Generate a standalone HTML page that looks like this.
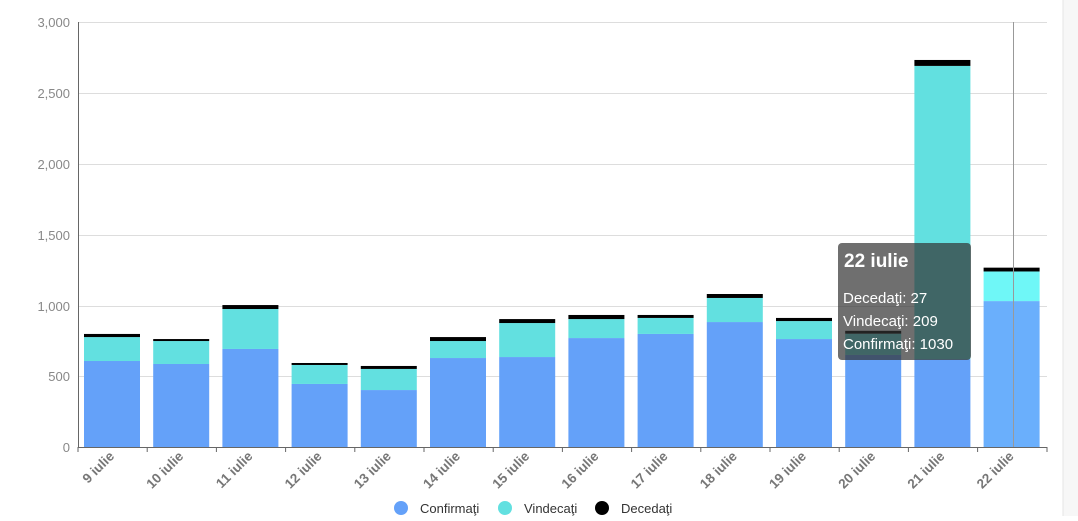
<!DOCTYPE html><html><head><style>body{margin:0;background:#fff;width:1078px;height:516px;overflow:hidden;font-family:"Liberation Sans",sans-serif}</style></head><body>
<svg width="1078" height="516" xmlns="http://www.w3.org/2000/svg" font-family="Liberation Sans, sans-serif">
<rect x="1063" y="0" width="15" height="516" fill="#f7f7f7"/><line x1="1063" y1="0" x2="1063" y2="516" stroke="#e4e4e4"/>
<g stroke="#ddd" stroke-width="1">
<line x1="78" y1="22.5" x2="1047" y2="22.5"/><line x1="78" y1="93.5" x2="1047" y2="93.5"/><line x1="78" y1="164.5" x2="1047" y2="164.5"/><line x1="78" y1="235.5" x2="1047" y2="235.5"/><line x1="78" y1="306.5" x2="1047" y2="306.5"/><line x1="78" y1="376.5" x2="1047" y2="376.5"/></g>
<g font-size="13" fill="#888" text-anchor="end">
<text x="70" y="27">3,000</text><text x="70" y="98">2,500</text><text x="70" y="169">2,000</text><text x="70" y="240">1,500</text><text x="70" y="311">1,000</text><text x="70" y="381">500</text><text x="70" y="452">0</text></g>
<g id="bars"></g>
<line x1="78.5" y1="22" x2="78.5" y2="447" stroke="#666"/>
<line x1="78" y1="447.5" x2="1047" y2="447.5" stroke="#666"/>
<line x1="1013.5" y1="22" x2="1013.5" y2="447" stroke="#999"/>
<g id="ticks"></g>
<g transform="translate(838,243)"><rect width="133" height="117" rx="4" fill="rgba(50,50,50,0.7)"/>
<text x="6" y="24" fill="#fff" font-size="19" font-weight="bold">22 iulie</text>
<text x="5" y="60" fill="#fff" font-size="15">Decedaţi: 27</text>
<text x="5" y="83" fill="#fff" font-size="15">Vindecaţi: 209</text>
<text x="5" y="106" fill="#fff" font-size="15">Confirmaţi: 1030</text></g>
<g font-size="13" fill="#333"><circle cx="401" cy="508" r="7" fill="#64a1f9"/><text x="420" y="513">Confirmaţi</text>
<circle cx="505" cy="508" r="7" fill="#62e0e0"/><text x="524" y="513">Vindecaţi</text>
<circle cx="602" cy="508" r="7" fill="#000"/><text x="621" y="513">Decedaţi</text></g>
</svg>
<script>
var d=[[607,169,22],[586,162,14],[692,282,28],[445,134,14],[402,149,21],[628,120,28],[635,240,28],[769,134,29],[798,113,21],[882,170,28],[762,127,22],[650,150,20],[620,2070,42],[1030,209,27]];
var names=["9","10","11","12","13","14","15","16","17","18","19","20","21","22"];
var s=425/3000,b="",t="";
d.forEach(function(v,i){var x=84+i*69.2,y=447,c=["#64a1f9","#62e0e0","#000"];if(i==13)c=["#6aaffc","#6ff7f7","#000"];
for(var k=0;k<3;k++){var h=v[k]*s;y-=h;b+='<rect x="'+x+'" y="'+y+'" width="56" height="'+h+'" fill="'+c[k]+'"/>';}
var tx=78+i*69.2;t+='<line x1="'+tx+'" y1="447" x2="'+tx+'" y2="452" stroke="#666"/>';
var cx=112+i*69.2;t+='<text transform="translate('+(cx+3)+',457) rotate(-45)" text-anchor="end" font-size="13.5" font-weight="bold" fill="#777">'+names[i]+' iulie</text>';});
t+='<line x1="1047" y1="447" x2="1047" y2="452" stroke="#666"/>';
document.getElementById("bars").innerHTML=b;document.getElementById("ticks").innerHTML=t;
</script></body></html>
